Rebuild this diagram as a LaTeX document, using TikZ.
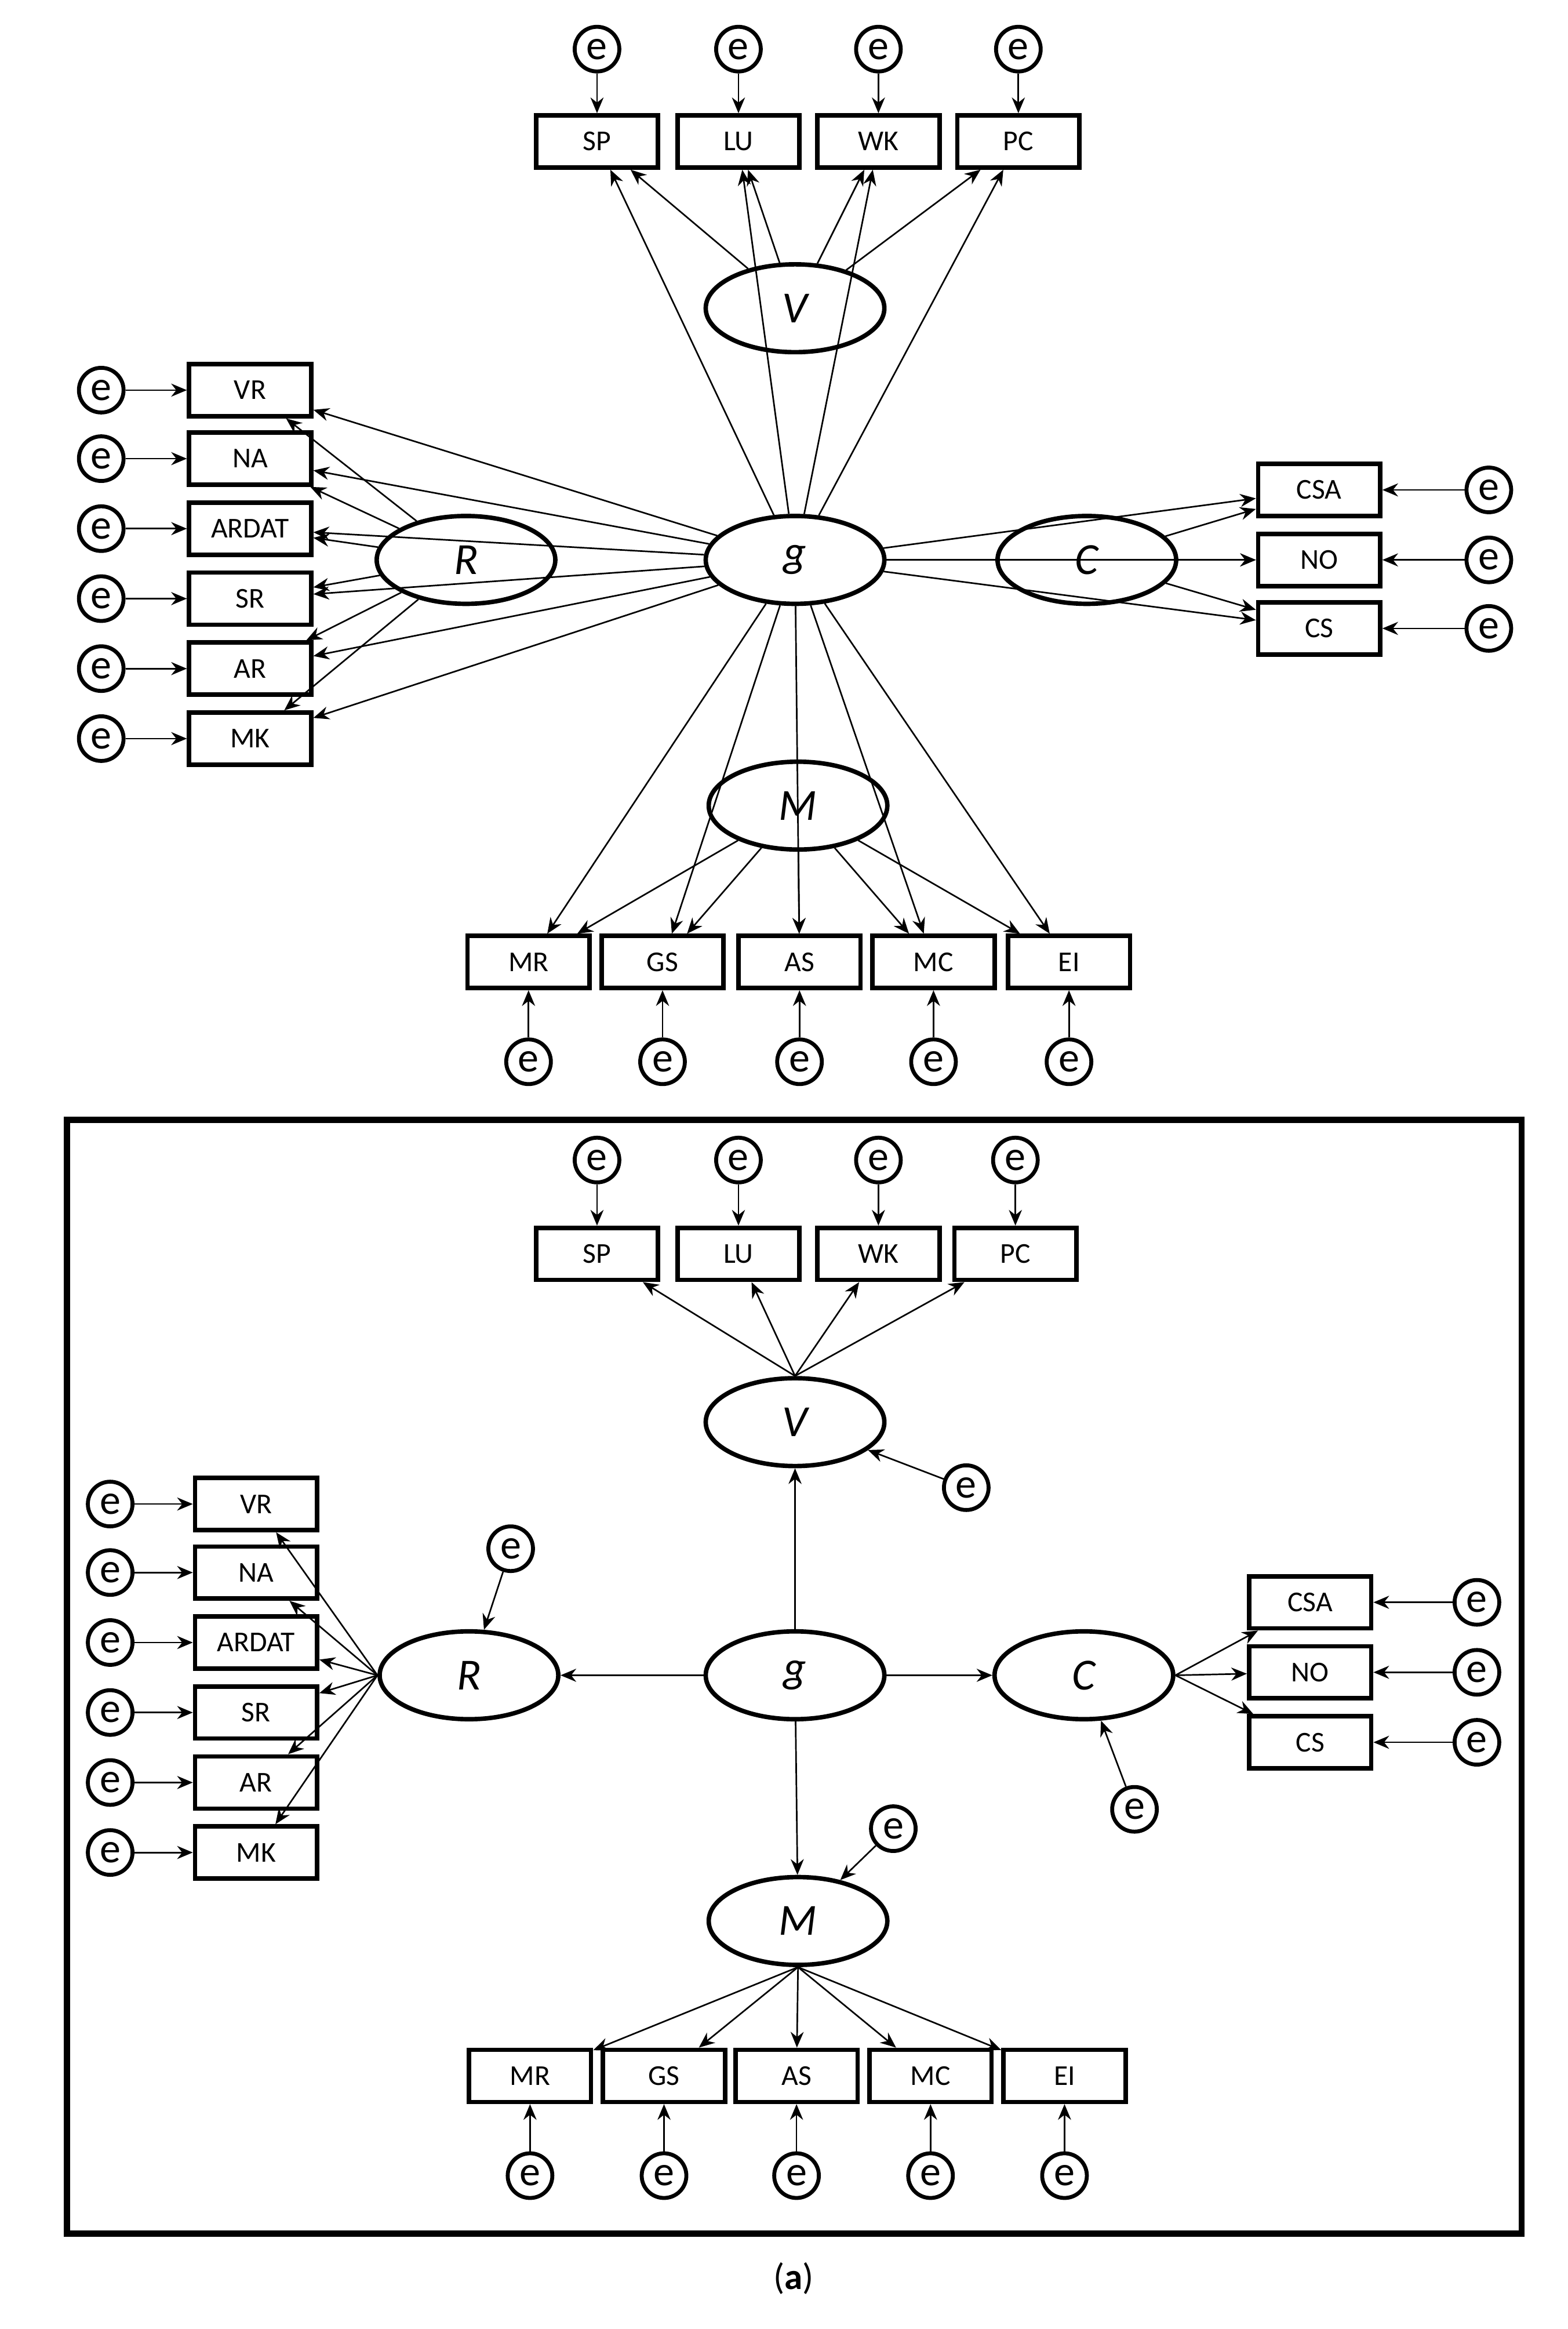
\documentclass[tikz,border=0pt]{standalone}
\usepackage{fontspec}
\setmainfont{Carlito}
\usetikzlibrary{arrows.meta,shapes.geometric}
\begin{document}
\begin{tikzpicture}[x=0.02cm, y=-0.02cm,
  box/.style={draw, line width=1.7pt, minimum width=1.64cm, minimum height=0.7cm, inner sep=0pt, font=\fontsize{11}{11}\selectfont},
  lat/.style={draw, ellipse, line width=1.7pt, minimum width=2.4cm, minimum height=1.18cm, inner sep=0pt, font=\fontsize{17}{17}\selectfont\itshape},
  err/.style={draw, circle, line width=1.5pt, minimum size=0.6cm, inner sep=0pt, font=\fontsize{16}{16}\selectfont},
  arr/.style={-{Stealth[length=6pt,width=5pt]}, line width=0.6pt}]
\useasboundingbox (0,0) rectangle (1053,1564);
% ================= upper model (bifactor) =================
\node[lat] (gA) at (534,376) {g};
\node[lat] (VA) at (534,207) {V};
\node[lat] (RA) at (313,376) {R};
\node[lat] (CA) at (730,376) {C};
\node[lat] (MA) at (536,541) {M};
% top indicators
\foreach \n/\x in {SP/401,LU/496,WK/590,PC/684}{
  \node[box] (A\n) at (\x,95) {\n};
  \node[err] (eA\n) at (\x,33) {e};
  \draw[arr] (eA\n) -- (A\n);
  \draw[arr] (gA) -- (A\n);
  \draw[arr] (VA) -- (A\n);
}
% left indicators
\foreach \n/\y in {VR/262,NA/308,ARDAT/355,SR/402,AR/449,MK/496}{
  \node[box] (A\n) at (168,\y) {\n};
  \node[err] (eA\n) at (68,\y) {e};
  \draw[arr] (eA\n) -- (A\n);
  \draw[arr] (gA) -- (A\n);
  \draw[arr] (RA) -- (A\n);
}
% right indicators
\foreach \n/\y in {CSA/329,NO/376,CS/422}{
  \node[box] (A\n) at (886,\y) {\n};
  \node[err] (eA\n) at (1000,\y) {e};
  \draw[arr] (eA\n) -- (A\n);
  \draw[arr] (gA) -- (A\n);
  \draw[arr] (CA) -- (A\n);
}
% bottom indicators
\foreach \n/\x in {MR/355,GS/445,AS/537,MC/627,EI/718}{
  \node[box] (A\n) at (\x,646) {\n};
  \node[err] (eA\n) at (\x,713) {e};
  \draw[arr] (eA\n) -- (A\n);
  \draw[arr] (gA) -- (A\n);
  \draw[arr] (MA) -- (A\n);
}
% ================= lower model (higher order) =================
\draw[line width=2.4pt] (45,752) rectangle (1022,1500);
\node[lat] (gB) at (534,1125) {g};
\node[lat] (VB) at (534,955) {V};
\node[lat] (RB) at (315,1125) {R};
\node[lat] (CB) at (728,1125) {C};
\node[lat] (MB) at (536,1290) {M};
\node[err] (eVB) at (649,999) {e};
\node[err] (eRB) at (343,1040) {e};
\node[err] (eCB) at (762,1215) {e};
\node[err] (eMB) at (600,1228) {e};
\foreach \f in {V,R,C,M}{
  \draw[arr] (gB) -- (\f B);
  \draw[arr] (e\f B) -- (\f B);
}
\foreach \n/\x in {SP/401,LU/496,WK/590,PC/682}{
  \node[box] (B\n) at (\x,842) {\n};
  \node[err] (eB\n) at (\x,779) {e};
  \draw[arr] (eB\n) -- (B\n);
  \draw[arr] (VB.north) -- (B\n);
}
\foreach \n/\y in {VR/1010,NA/1056,ARDAT/1103,SR/1150,AR/1197,MK/1244}{
  \node[box] (B\n) at (172,\y) {\n};
  \node[err] (eB\n) at (74,\y) {e};
  \draw[arr] (eB\n) -- (B\n);
  \draw[arr] (RB.west) -- (B\n);
}
\foreach \n/\y in {CSA/1076,NO/1123,CS/1170}{
  \node[box] (B\n) at (880,\y) {\n};
  \node[err] (eB\n) at (992,\y) {e};
  \draw[arr] (eB\n) -- (B\n);
  \draw[arr] (CB.east) -- (B\n);
}
\foreach \n/\x in {MR/356,GS/446,AS/535,MC/625,EI/715}{
  \node[box] (B\n) at (\x,1394) {\n};
  \node[err] (eB\n) at (\x,1461) {e};
  \draw[arr] (eB\n) -- (B\n);
  \draw[arr] (MB.south) -- (B\n);
}
\node[font=\fontsize{14}{14}\selectfont] (cap) at (533,1530) {(\textbf{a})};
\end{tikzpicture}
\end{document}
